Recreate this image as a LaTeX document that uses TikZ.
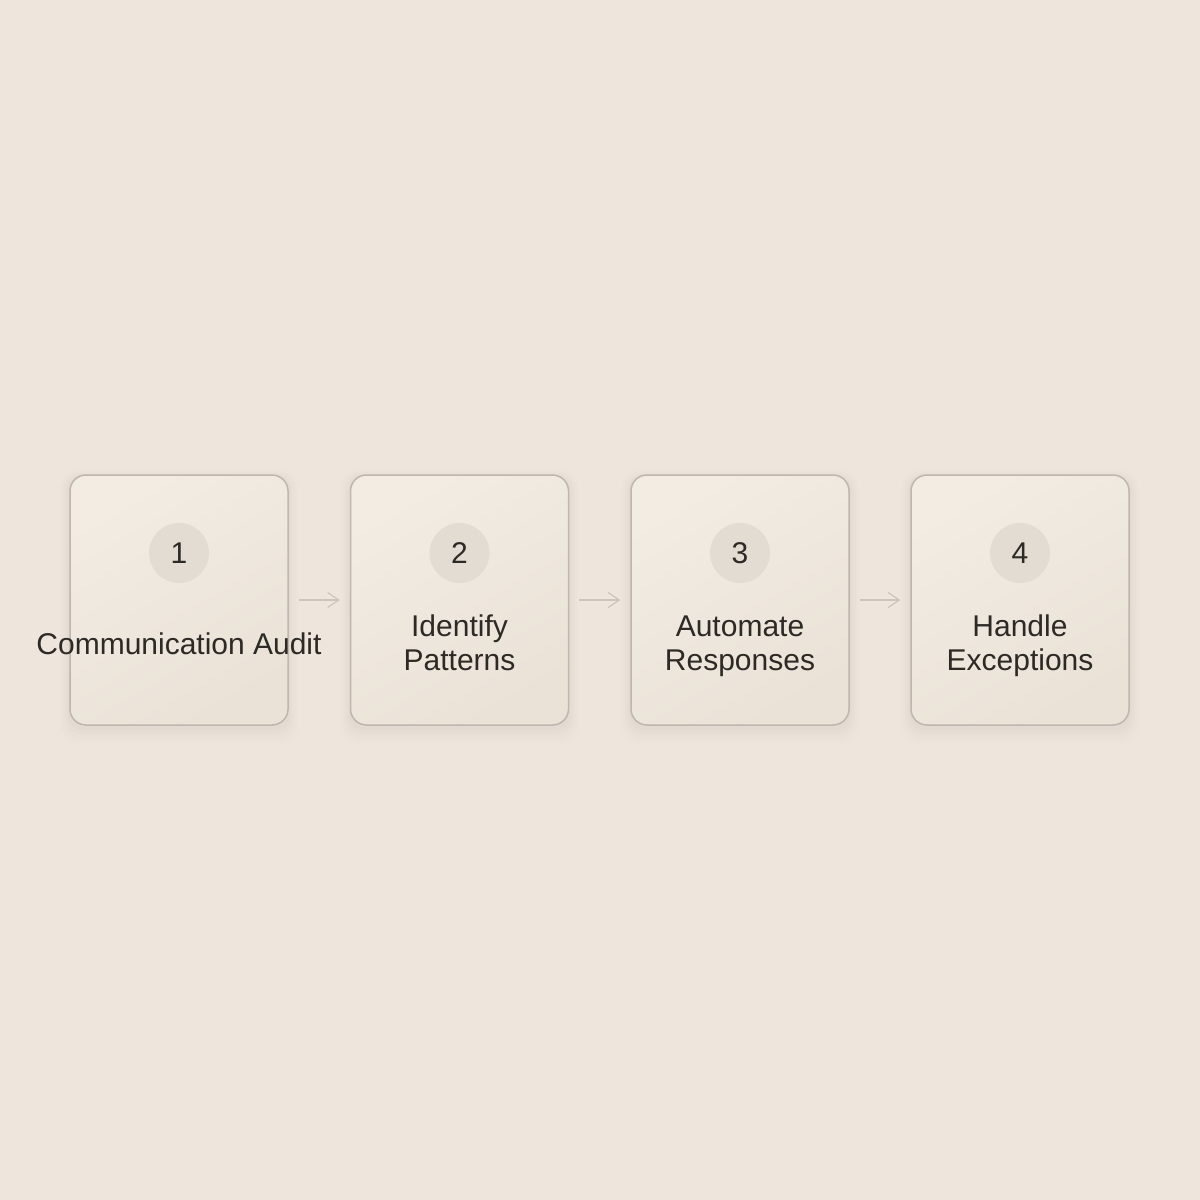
\documentclass[tikz,border=0pt]{standalone}
\usepackage{fontspec}
\setmainfont{Liberation Sans}
\usepackage{tikz}
\usetikzlibrary{arrows.meta,shadows}
\definecolor{bgcol}{HTML}{EEE6DD}
\definecolor{boxtop}{HTML}{F2ECE3}
\definecolor{boxbot}{HTML}{EAE2D7}
\definecolor{boxline}{HTML}{BEB7AF}
\definecolor{numfill}{HTML}{E3DCD3}
\definecolor{inkcol}{HTML}{2D2924}
\definecolor{arrowcol}{HTML}{CDC5BB}

\begin{document}
\begin{tikzpicture}[x=0.5pt,y=-0.5pt,
  stepbox/.style={draw=boxline, line width=0.75pt, rounded corners=8pt,
    minimum width=109pt, minimum height=125pt,
    top color=boxtop, bottom color=boxbot, shading angle=30,
    general shadow={shadow scale=1.02, shadow yshift=-1.5pt, fill=black, opacity=.012},
    general shadow={shadow scale=1.04, shadow yshift=-2pt, fill=black, opacity=.01},
    general shadow={shadow scale=1.06, shadow yshift=-2.5pt, fill=black, opacity=.008},
    general shadow={shadow scale=1.08, shadow yshift=-3pt, fill=black, opacity=.006},
    general shadow={shadow scale=1.10, shadow yshift=-3.5pt, fill=black, opacity=.004}},
  stepnum/.style={circle, fill=numfill, minimum size=30pt, inner sep=0pt,
    text=inkcol, font=\fontsize{15}{18}\selectfont},
  steplabel/.style={text=inkcol, align=center, font=\fontsize{15}{17}\selectfont,
    execute at end node=\strut},
  flowarrow/.style={draw=arrowcol, line width=0.6pt, shorten <=5pt, shorten >=5pt,
    -{Straight Barb[length=5.5pt,width=7.5pt,line width=0.6pt]}}]
\useasboundingbox[fill=bgcol] (0,0) rectangle (1200,1200);
% boxes
\node[stepbox] (box1) at (179,600) {};
\node[stepbox] (box2) at (459.5,600) {};
\node[stepbox] (box3) at (740,600) {};
\node[stepbox] (box4) at (1020,600) {};
% numbers
\node[stepnum] (num1) at (179,553) {1};
\node[stepnum] (num2) at (459.5,553) {2};
\node[stepnum] (num3) at (740,553) {3};
\node[stepnum] (num4) at (1020,553) {4};
% labels
\node[steplabel] (lab1) at (179,648) {Communication Audit};
\node[steplabel] (lab2) at (459.5,648) {Identify\\Patterns};
\node[steplabel] (lab3) at (740,648) {Automate\\Responses};
\node[steplabel] (lab4) at (1020,648) {Handle\\Exceptions};
% arrows
\draw[flowarrow] (box1) -- (box2);
\draw[flowarrow] (box2) -- (box3);
\draw[flowarrow] (box3) -- (box4);
\end{tikzpicture}
\end{document}
